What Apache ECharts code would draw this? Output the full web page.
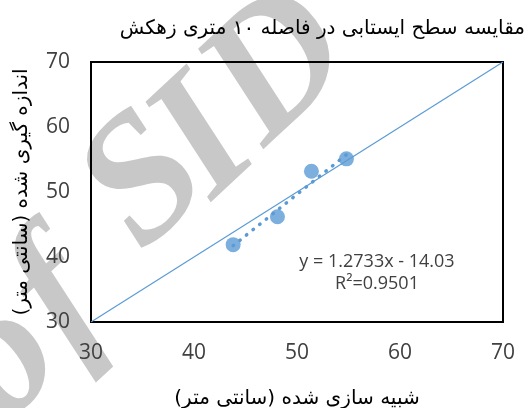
<!DOCTYPE html>
<html><head><meta charset="utf-8">
<script src="https://cdn.jsdelivr.net/npm/echarts@6/dist/echarts.min.js"></script>
<style>html,body{margin:0;padding:0;background:#fff}#c{width:527px;height:408px}</style>
</head><body><div id="c"></div>
<script>
const simulated = [43.8, 48.1, 51.4, 54.8];
const measured  = [41.9, 46.2, 53.2, 55.1];
const axisTicks = [30, 40, 50, 60, 70];
const fitSlope = 1.2733;
const fitIntercept = -14.03;
const fitR2 = 0.9501;
const titleText = 'مقایسه سطح ایستابی در فاصله ۱۰ متری زهکش';
const xName = 'شبیه سازی شده (سانتی متر)';
const yName = 'اندازه گیری شده (سانتی متر)';
const watermarkLetters = ['o', 'f', 'S', 'I', 'D'];
const watermarkAt = [[4, 362], [60, 300], [147, 185], [206, 143], [280, 70]];

const pts = simulated.map((x, i) => [x, measured[i]]);
const xMin = Math.min(...simulated), xMax = Math.max(...simulated);
const fitLine = [[xMin, fitSlope * xMin + fitIntercept], [xMax, fitSlope * xMax + fitIntercept]];
const oneToOne = [[axisTicks[0], axisTicks[0]], [axisTicks[axisTicks.length - 1], axisTicks[axisTicks.length - 1]]];

const chart = echarts.init(document.getElementById('c'), null, {renderer: 'canvas'});
const labelFont = {color: '#404040', fontSize: 21, fontFamily: 'Open Sans'};
const wmRot = 43 * Math.PI / 180;
const wm = watermarkLetters.map((ch, i) => ({
  type: 'text', z: -10, rotation: wmRot, x: watermarkAt[i][0], y: watermarkAt[i][1],
  style: {text: ch, font: 'italic bold 180px "Liberation Serif"', fill: '#c8c8c8',
    textAlign: 'center', textVerticalAlign: 'middle'}
}));
chart.setOption({
  animation: false,
  backgroundColor: '#fff',
  title: {text: titleText, right: -3, top: 14,
    textStyle: {fontFamily: 'DejaVu Sans', fontSize: 20, fontWeight: 'normal', color: '#000'}},
  grid: {left: 91, right: 24, top: 62, bottom: 86, containLabel: false, outerBoundsMode: 'none',
    show: true, borderColor: '#000', borderWidth: 2, backgroundColor: 'transparent'},
  xAxis: {type: 'value', min: 30, max: 70, interval: 10,
    name: xName, nameLocation: 'middle', nameGap: 67,
    nameTextStyle: {fontFamily: 'DejaVu Sans', fontSize: 20, color: '#000'},
    axisLine: {lineStyle: {color: '#000', width: 2}}, axisTick: {show: false}, splitLine: {show: false},
    axisLabel: Object.assign({margin: 21}, labelFont)},
  yAxis: {type: 'value', min: 30, max: 70, interval: 10,
    name: yName, nameLocation: 'middle', nameGap: 59, nameRotate: 90,
    nameTextStyle: {fontFamily: 'DejaVu Sans', fontSize: 20, color: '#000'},
    axisLine: {lineStyle: {color: '#000', width: 2}}, axisTick: {show: false}, splitLine: {show: false},
    axisLabel: Object.assign({margin: 21}, labelFont)},
  graphic: wm.concat([
    {type: 'text', z: 10, x: 377, y: 262,
      style: {text: 'y = ' + fitSlope + 'x - ' + Math.abs(fitIntercept), font: '18px "Open Sans"', fill: '#404040',
        textAlign: 'center', textVerticalAlign: 'middle'}},
    {type: 'text', z: 10, x: 377, y: 284,
      style: {text: 'R²=' + fitR2, font: '18px "Open Sans"', fill: '#404040',
        textAlign: 'center', textVerticalAlign: 'middle'}}
  ]),
  series: [
    {type: 'line', data: oneToOne, symbol: 'none', lineStyle: {color: '#5B9BD5', width: 1.2}, z: 3},
    {type: 'line', data: fitLine, symbol: 'none', lineStyle: {color: '#5B9BD5', width: 3.5, type: [0.5, 8], cap: 'round'}, z: 4},
    {type: 'scatter', data: pts, symbolSize: 15, itemStyle: {color: '#5B9BD5'}, z: 5}
  ]
});
</script></body></html>
